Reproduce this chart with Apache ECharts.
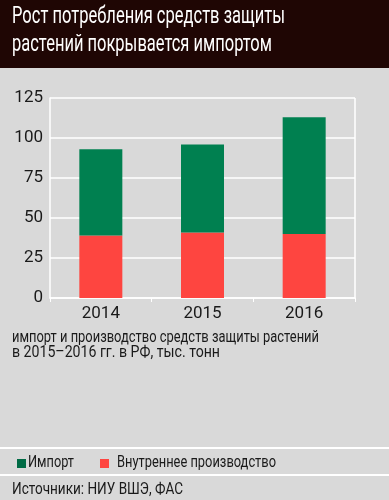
<!DOCTYPE html>
<html><head><meta charset="utf-8">
<script src="https://cdn.jsdelivr.net/npm/echarts@6/dist/echarts.min.js"></script>
<style>html,body{margin:0;padding:0;background:#d9d9d9}#c{width:389px;height:500px}</style>
</head><body><div id="c"></div>
<script>
const categories = ['2014', '2015', '2016'];
const domestic = [39, 41, 40];
const imports = [54, 55, 73];
const yTicks = [0, 25, 50, 75, 100, 125];
const seriesNames = ['Импорт', 'Внутреннее производство'];
const titleLines = ['Рост потребления средств защиты', 'растений покрывается импортом'];
const noteLines = ['импорт и производство средств защиты растений', 'в 2015–2016 гг. в РФ, тыс. тонн'];
const sourceText = 'Источники: НИУ ВШЭ, ФАС';
const FONT = 'Roboto, "DejaVu Sans", sans-serif';
const GREEN = '#008050', RED = '#fe4540', INK = '#1a1a1a';

const mctx = document.createElement('canvas').getContext('2d');
function fitText(text, size, x, y, targetW, fill) {
  mctx.font = size + 'px ' + FONT;
  const w = mctx.measureText(text).width;
  return {type: 'text', x: x, y: y, scaleX: targetW / w, z: 10,
    style: {text: text, font: size + 'px ' + FONT, fill: fill, verticalAlign: 'top'}};
}

const chart = echarts.init(document.getElementById('c'), null, {renderer: 'canvas'});
chart.setOption({
  backgroundColor: '#d9d9d9',
  animation: false,
  textStyle: {fontFamily: FONT},
  graphic: [
    {type: 'rect', x: 0, y: 0, shape: {width: 389, height: 68}, style: {fill: '#1f0604'}, z: 0},
    {type: 'line', shape: {x1: 0, y1: 448, x2: 389, y2: 448}, style: {stroke: '#ffffff', lineWidth: 2}},
    {type: 'line', shape: {x1: 0, y1: 475, x2: 389, y2: 475}, style: {stroke: '#ffffff', lineWidth: 2}},
    {type: 'line', shape: {x1: 355, y1: 98, x2: 355, y2: 298}, style: {stroke: '#ffffff', lineWidth: 1.5}},
    fitText(titleLines[0], 23, 12, 6, 273, '#ffffff'),
    fitText(titleLines[1], 23, 12, 34, 260, '#ffffff'),
    fitText(noteLines[0], 16, 12, 330, 307, INK),
    fitText(noteLines[1], 16, 12, 345, 208, INK),
    {type: 'rect', x: 17, y: 459, shape: {width: 9, height: 9}, style: {fill: '#006b45'}},
    fitText(seriesNames[0], 16, 28, 455, 46, INK),
    {type: 'rect', x: 100, y: 459, shape: {width: 9, height: 9}, style: {fill: RED}},
    fitText(seriesNames[1], 16, 117, 455, 159, INK),
    fitText(sourceText, 16, 12, 482, 171, INK)
  ],
  grid: {left: 50, right: 34, top: 98, bottom: 202, containLabel: false},
  xAxis: {
    type: 'category', data: categories,
    axisLine: {lineStyle: {color: '#ffffff', width: 1.5}},
    axisTick: {show: true, alignWithLabel: false, length: 4, lineStyle: {color: '#ffffff'}},
    axisLabel: {color: INK, fontSize: 17, margin: 7, fontFamily: FONT}
  },
  yAxis: {
    type: 'value', min: 0, max: 125, interval: 25,
    axisLine: {show: true, lineStyle: {color: '#ffffff', width: 1.5}},
    axisTick: {show: false},
    splitLine: {lineStyle: {color: '#ffffff', width: 1.5}},
    axisLabel: {color: INK, fontSize: 17, margin: 7, fontFamily: FONT,
      formatter: v => yTicks.includes(v) ? String(v) : ''}
  },
  series: [
    {name: seriesNames[1], type: 'bar', stack: 't', data: domestic, barWidth: 43,
      itemStyle: {color: RED}},
    {name: seriesNames[0], type: 'bar', stack: 't', data: imports, barWidth: 43,
      itemStyle: {color: GREEN}}
  ]
});
</script></body></html>
